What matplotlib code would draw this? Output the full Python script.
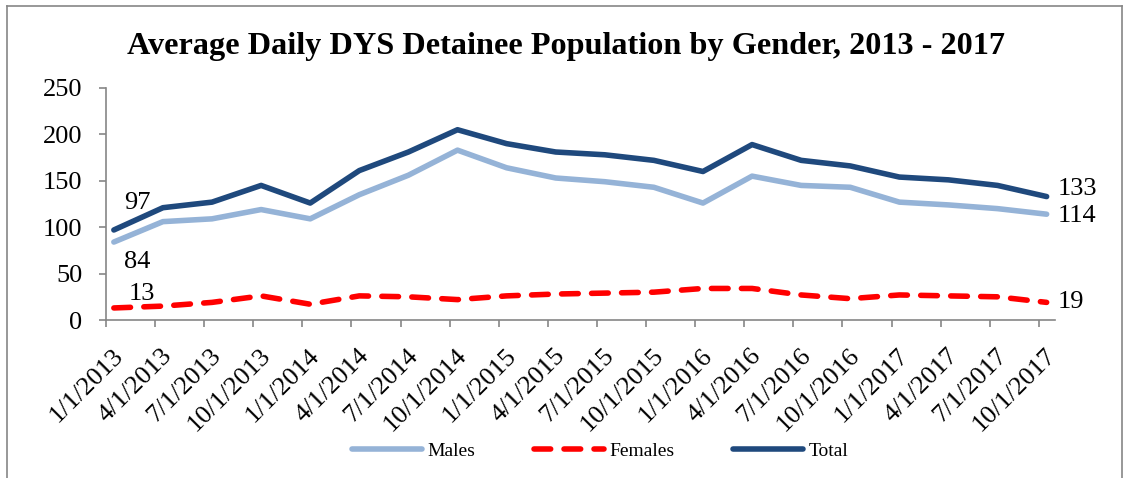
"""Average daily DYS detainee population by gender, 2013 - 2017."""

import matplotlib
matplotlib.use("Agg")

import matplotlib.pyplot as plt
from matplotlib.lines import Line2D
import numpy as np

plt.rcParams["font.family"] = ["Liberation Serif", "DejaVu Serif"]

# Data
quarters = ["1/1/2013", "4/1/2013", "7/1/2013", "10/1/2013",
            "1/1/2014", "4/1/2014", "7/1/2014", "10/1/2014",
            "1/1/2015", "4/1/2015", "7/1/2015", "10/1/2015",
            "1/1/2016", "4/1/2016", "7/1/2016", "10/1/2016",
            "1/1/2017", "4/1/2017", "7/1/2017", "10/1/2017"]
males = [84, 106, 109, 119, 109, 135, 156, 183, 164, 153,
         149, 143, 126, 155, 145, 143, 127, 124, 120, 114]
females = [13, 15, 19, 26, 17, 26, 25, 22, 26, 28,
           29, 30, 34, 34, 27, 23, 27, 26, 25, 19]
total = [97, 121, 127, 145, 126, 161, 181, 205, 190, 181,
         178, 172, 160, 189, 172, 166, 154, 151, 145, 133]

MALE_COLOR = "#95B3D7"
FEMALE_COLOR = "#FF0000"
TOTAL_COLOR = "#1F497D"
AXIS_COLOR = "#868686"
LW = 4.0

fig = plt.figure(figsize=(11.24, 4.78), dpi=100)
ax = fig.add_axes([0.0943, 0.3305, 0.8443, 0.4855])

x = np.arange(len(quarters))
ax.plot(x, males, color=MALE_COLOR, linewidth=LW, solid_capstyle="round",
        solid_joinstyle="round", label="Males")
ax.plot(x, females, color=FEMALE_COLOR, linewidth=LW, linestyle=(0, (3.0, 2.4)),
        dash_capstyle="round", label="Females")
ax.plot(x, total, color=TOTAL_COLOR, linewidth=LW, solid_capstyle="round",
        solid_joinstyle="round", label="Total")

# Data labels at the first and last points
lab = dict(textcoords="offset pixels", fontsize=19, va="center")
ax.annotate(str(total[0]), (x[0], total[0]), xytext=(24, 27), ha="center", **lab)
ax.annotate(str(males[0]), (x[0], males[0]), xytext=(23, -20), ha="center", **lab)
ax.annotate(str(females[0]), (x[0], females[0]), xytext=(28, 14), ha="center", **lab)
ax.annotate(str(total[-1]), (x[-1], total[-1]), xytext=(11, 8), ha="left", **lab)
ax.annotate(str(males[-1]), (x[-1], males[-1]), xytext=(11, -2), ha="left", **lab)
ax.annotate(str(females[-1]), (x[-1], females[-1]), xytext=(11, 0), ha="left", **lab)

ax.set_ylim(0, 250)
ax.set_yticks(range(0, 251, 50))
ax.set_xlim(-0.16, len(quarters) - 1 + 0.17)

# tick marks sit a little left of the points, labels a little right
ax.set_xticks(x - 0.16, minor=True)
ax.set_xticks(x + 0.12)
ax.set_xticklabels(quarters, rotation=45, ha="right", va="center",
                   rotation_mode="anchor")
ax.tick_params(axis="x", which="major", length=0, pad=23, labelsize=19)
ax.tick_params(axis="x", which="minor", length=5, width=1.2, color=AXIS_COLOR)
ax.tick_params(axis="y", length=5, width=1.2, color=AXIS_COLOR, pad=12,
               labelsize=19)

for side in ["top", "right"]:
    ax.spines[side].set_visible(False)
for side in ["left", "bottom"]:
    ax.spines[side].set_color(AXIS_COLOR)
    ax.spines[side].set_linewidth(1.2)

fig.text(0.504, 0.903, "Average Daily DYS Detainee Population by Gender, 2013 - 2017",
         ha="center", va="center", fontsize=23.2, fontweight="bold")

fig.legend(loc="center", bbox_to_anchor=(0.534, 0.056), ncol=3, frameon=False,
           fontsize=14, handlelength=3.6, handletextpad=0.3, columnspacing=3.0)

# outer chart border
for xs, ys in [([0.0065, 0.0065], [0, 0.987]), ([0.0065, 0.998], [0.987, 0.987]),
               ([0.998, 0.998], [0, 0.987])]:
    fig.add_artist(Line2D(xs, ys, color=AXIS_COLOR, linewidth=1.2))

fig.savefig("out.png", dpi=100, facecolor="white")
